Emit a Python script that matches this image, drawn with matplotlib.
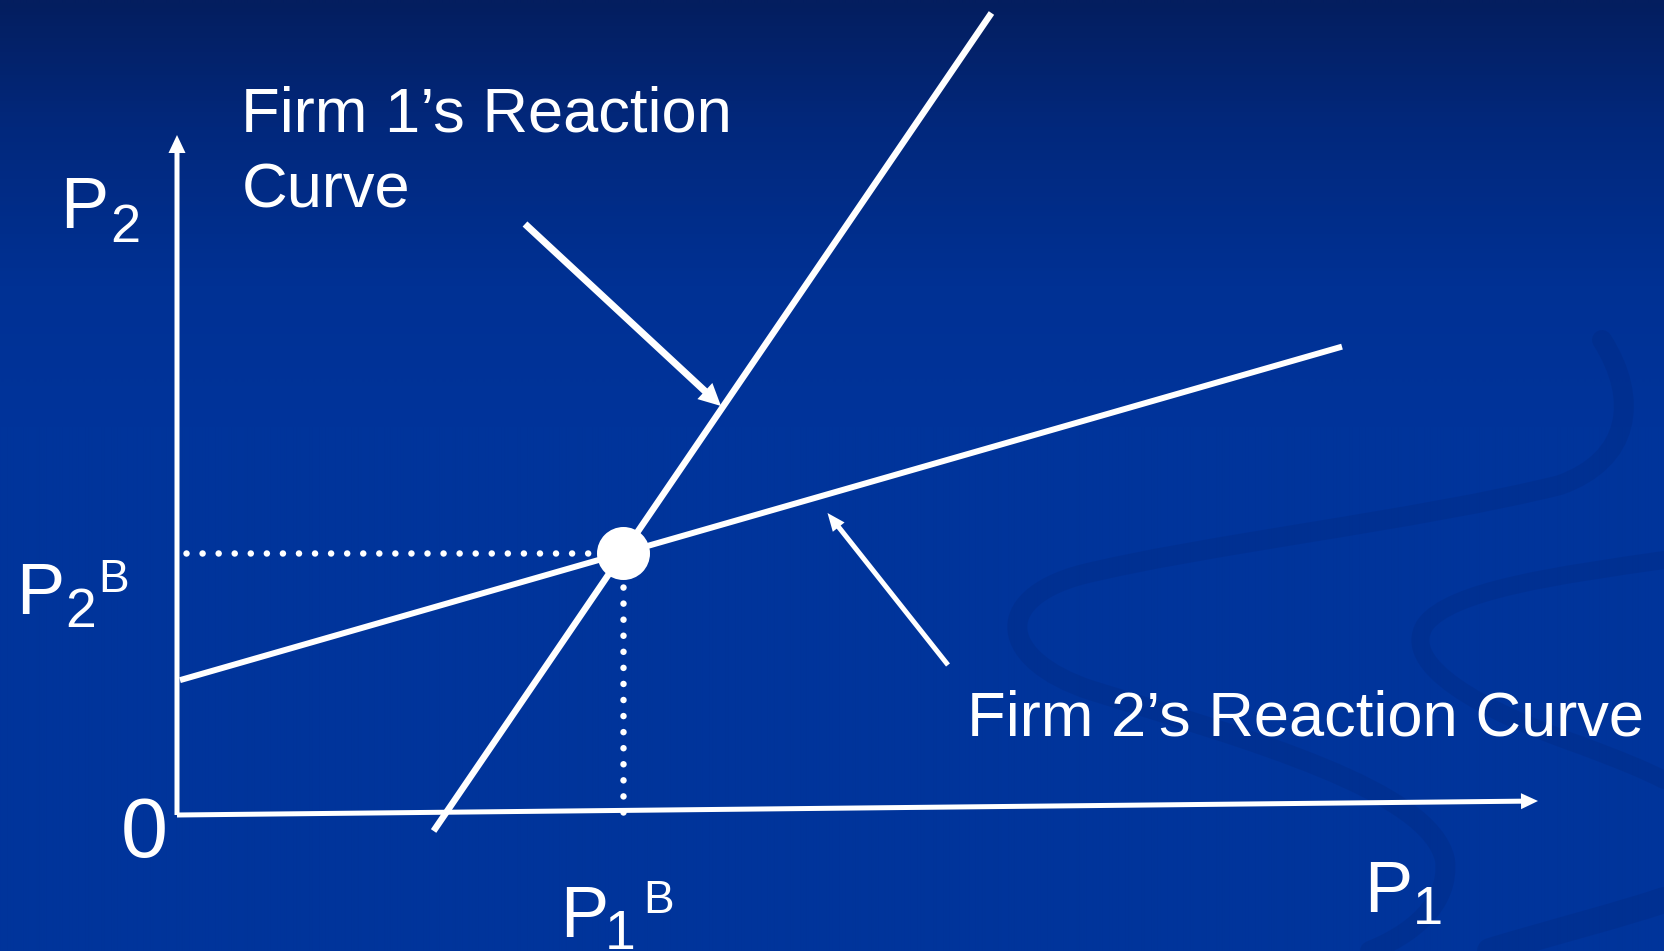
import numpy as np
import matplotlib
matplotlib.use("Agg")
import matplotlib.pyplot as plt
from matplotlib.path import Path
from matplotlib.patches import PathPatch
from matplotlib.colors import LinearSegmentedColormap

W, H, DPI = 1664, 951, 100

# Reaction curves in price units
#   Firm 1: P1 = firm1_intercept + firm1_slope * P2
#   Firm 2: P2 = firm2_intercept + firm2_slope * P1
firm1_intercept = 2.675
firm1_slope = 0.682
firm2_intercept = 1.34
firm2_slope = 0.287
firm1_p2_range = [-0.16, 8.02]
firm2_p1_range = [0.03, 11.65]

# Axis arrows (tips), origin at (0, 0)
p1_axis_tip = [13.61, 0.14]
p2_axis_tip = [0.0, 6.80]

# Pointer arrows: tail and head positions
firm1_arrow_tail = [3.48, 5.91]
firm1_arrow_head = [5.44, 4.09]
firm2_arrow_tail = [7.71, 1.50]
firm2_arrow_head = [6.505, 3.02]

# Text
firm1_label = ["Firm 1\u2019s Reaction", "Curve"]
firm2_label = "Firm 2\u2019s Reaction Curve"

FONT = "Liberation Sans"
WHITE = "white"

fig = plt.figure(figsize=(W / DPI, H / DPI), dpi=DPI)

# ---- background: vertical gradient plus faint swirl ribbons ----
bg = fig.add_axes([0, 0, 1, 1], zorder=0)
bg.set_xlim(0, W)
bg.set_ylim(H, 0)
bg.axis("off")
cmap = LinearSegmentedColormap.from_list(
    "slide",
    [(0.0, (4 / 255, 30 / 255, 95 / 255)),
     (0.13, (2 / 255, 40 / 255, 124 / 255)),
     (0.30, (0 / 255, 49 / 255, 148 / 255)),
     (0.45, (0 / 255, 52 / 255, 155 / 255)),
     (1.0, (0 / 255, 52 / 255, 155 / 255))])
grad = np.linspace(0, 1, H)[:, None] * np.ones((1, 8))
bg.imshow(grad, cmap=cmap, extent=(0, W, H, 0), aspect="auto",
          interpolation="bilinear", vmin=0, vmax=1)

C4 = Path.CURVE4
swirls = [
    # large S-shaped ribbon
    ([(1602, 340), (1640, 400), (1630, 460), (1560, 485),
      (1420, 520), (1200, 545), (1080, 575),
      (990, 600), (1000, 660), (1090, 690),
      (1250, 740), (1430, 790), (1445, 860),
      (1450, 905), (1410, 935), (1370, 951)],
     [Path.MOVETO, C4, C4, C4, C4, C4, C4, C4, C4, C4, C4, C4, C4, C4, C4, C4], 20),
    # smaller curl at the right edge
    ([(1664, 560), (1560, 575), (1450, 590), (1425, 625),
      (1400, 665), (1480, 710), (1580, 745),
      (1620, 760), (1645, 770), (1664, 780)],
     [Path.MOVETO, C4, C4, C4, C4, C4, C4, C4, C4, C4], 18),
    # lower right sweep
    ([(1490, 951), (1560, 930), (1620, 915), (1664, 900)],
     [Path.MOVETO, C4, C4, C4], 26),
]
for verts, codes, width in swirls:
    bg.add_patch(PathPatch(Path(verts, codes), facecolor="none",
                           edgecolor=(0 / 255, 20 / 255, 80 / 255),
                           alpha=0.11, lw=width * 72 / DPI,
                           capstyle="round"))

# ---- diagram axes: 100 px per price unit, origin at pixel (177, 815) ----
ax = fig.add_axes([0, 0, 1, 1], zorder=1)
ax.set_xlim(-1.77, (W - 177) / 100)
ax.set_ylim(-(H - 815) / 100, 8.15)
ax.patch.set_alpha(0)
ax.axis("off")

PT = 72 / DPI  # points per pixel
PX = 0.01      # price units per pixel


def arrow(tail, head, shaft_px, head_len_px, head_w_px):
    ax.arrow(tail[0], tail[1], head[0] - tail[0], head[1] - tail[1],
             width=shaft_px * PX, head_width=head_w_px * PX,
             head_length=head_len_px * PX, length_includes_head=True,
             color=WHITE, lw=0, zorder=4)


# coordinate axes
arrow([0, 0], p1_axis_tip, 5, 17, 16)
arrow([0, 0], p2_axis_tip, 5, 18, 17)

# reaction curves
p2_vals = np.array(firm1_p2_range)
ax.plot(firm1_intercept + firm1_slope * p2_vals, p2_vals,
        color=WHITE, lw=6.5 * PT, solid_capstyle="butt", zorder=3)
p1_vals = np.array(firm2_p1_range)
ax.plot(p1_vals, firm2_intercept + firm2_slope * p1_vals,
        color=WHITE, lw=6 * PT, solid_capstyle="butt", zorder=3)

# Bertrand equilibrium: intersection of the two reaction curves
p1_eq = (firm1_intercept + firm1_slope * firm2_intercept) / (1 - firm1_slope * firm2_slope)
p2_eq = firm2_intercept + firm2_slope * p1_eq

dot_lw = 6.5 * PT
gap = 16 * PT / dot_lw
ax.plot([0.09, p1_eq], [p2_eq, p2_eq], color=WHITE, lw=dot_lw,
        linestyle=(0, (0.01, gap)), dash_capstyle="round", zorder=2)
ax.plot([p1_eq, p1_eq], [0.03, p2_eq], color=WHITE, lw=dot_lw,
        linestyle=(0, (0.01, gap)), dash_capstyle="round", zorder=2)
ax.plot([p1_eq], [p2_eq], "o", color=WHITE, ms=53 * PT, mec="none", zorder=5)

# pointer arrows
arrow(firm1_arrow_tail, firm1_arrow_head, 7, 22, 22)
arrow(firm2_arrow_tail, firm2_arrow_head, 5, 18, 15)


# ---- text labels (pixel positions, baseline-aligned) ----
def put(x, y, s, size):
    fig.text(x / W, 1 - y / H, s, fontsize=size, color=WHITE, family=FONT,
             ha="left", va="baseline", zorder=6)


put(241, 131, firm1_label[0], 45.5)
put(242, 207, firm1_label[1], 45.5)
put(967, 736, firm2_label, 45.5)

# P2 (vertical axis)
put(60, 228, "P", 52)
put(110, 242, "2", 39)
# P2^B
put(16, 614, "P", 52)
put(65, 627, "2", 40)
put(98, 592, "B", 33)
# origin
put(121, 857, "0", 61)
# P1^B
put(560, 937, "P", 52)
put(605, 949, "1", 40)
put(643, 913, "B", 33)
# P1 (horizontal axis)
put(1364, 912, "P", 52)
put(1413, 924, "1", 39)

fig.savefig("out.png", dpi=DPI)
